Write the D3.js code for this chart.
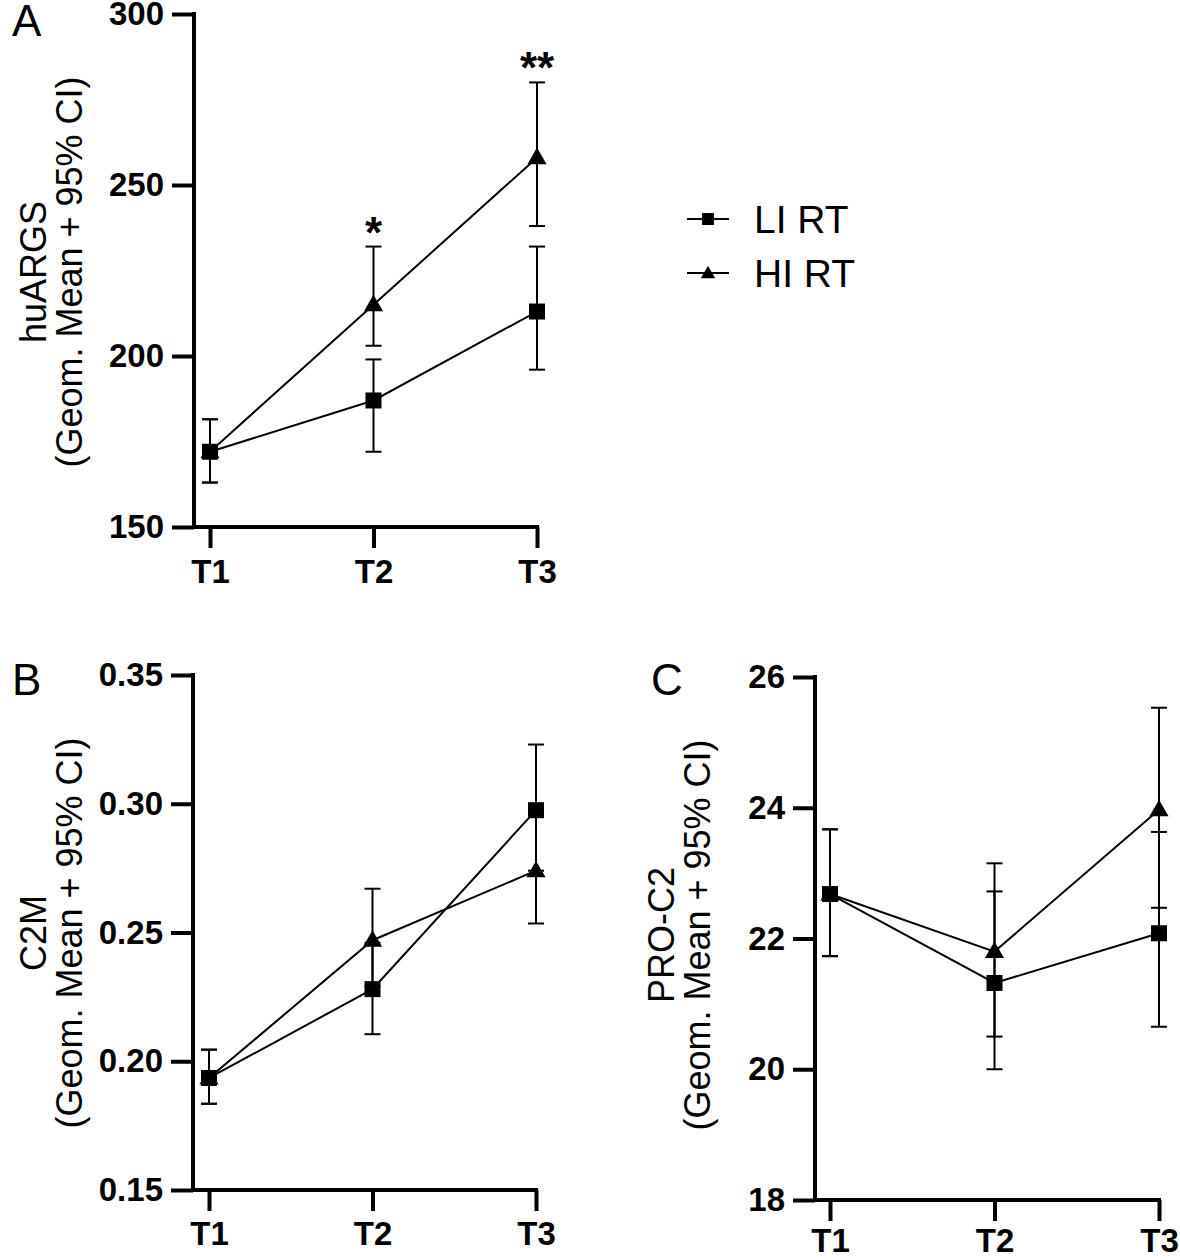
<!DOCTYPE html>
<html><head><meta charset="utf-8">
<script src="https://cdn.jsdelivr.net/npm/d3@7/dist/d3.min.js"></script>
<style>
html,body{margin:0;padding:0;background:#fff;}
svg{display:block;font-family:"Liberation Sans",Arial,sans-serif;}
</style></head>
<body>
<svg id="chart" width="1180" height="1260"></svg>
<script>
// ---- data ----
const timepoints = ["T1", "T2", "T3"];
const seriesNames = ["LI RT", "HI RT"];

// Panel A: huARGS
const huargsTicks = [150, 200, 250, 300];
const huargsLI = [172, 187, 213];
const huargsLILow = [163, 172, 196];
const huargsLIHigh = [181.5, 199, 232];
const huargsHI = [172, 215, 258];
const huargsHILow = [163, 203, 238];
const huargsHIHigh = [181.5, 232, 280];
const huargsStars = ["", "*", "**"];

// Panel B: C2M
const c2mTicks = [0.15, 0.20, 0.25, 0.30, 0.35];
const c2mLI = [0.1935, 0.228, 0.2975];
const c2mLILow = [0.1835, 0.2105, 0.274];
const c2mLIHigh = [0.2045, 0.246, 0.323];
const c2mHI = [0.1935, 0.247, 0.274];
const c2mHILow = [0.1835, 0.229, 0.2535];
const c2mHIHigh = [0.2045, 0.267, 0.297];

// Panel C: PRO-C2
const proc2Ticks = [18, 20, 22, 24, 26];
const proc2LI = [22.68, 21.32, 22.08];
const proc2LILow = [21.73, 20.0, 20.65];
const proc2LIHigh = [23.67, 22.72, 23.63];
const proc2HI = [22.68, 21.8, 23.97];
const proc2HILow = [21.73, 20.5, 22.47];
const proc2HIHigh = [23.67, 23.15, 25.53];

const svg = d3.select("#chart");
const tri = d3.symbol().type(d3.symbolTriangle);

function marker(g, type, x, y, size) {
  if (type === "square") {
    g.append("rect").attr("x", x - size / 2).attr("y", y - size / 2)
      .attr("width", size).attr("height", size).attr("fill", "#000");
  } else {
    g.append("path").attr("d", tri.size(size * size * 0.62)())
      .attr("transform", `translate(${x},${y + 1})`).attr("fill", "#000");
  }
}

function panel(cfg) {
  const g = svg.append("g");
  const y = d3.scaleLinear().domain(cfg.domain).range([cfg.bottom, cfg.top]);
  const x = d3.scalePoint().domain(timepoints).range([cfg.x1, cfg.x3]);

  // y axis
  const ya = g.append("g").attr("transform", `translate(${cfg.axisX},0)`)
    .call(d3.axisLeft(y).tickValues(cfg.ticks).tickSize(22).tickPadding(8)
      .tickSizeOuter(0).tickFormat(cfg.fmt));
  ya.select(".domain").remove();
  ya.selectAll(".tick line").attr("stroke", "#000").attr("stroke-width", 4);
  ya.selectAll(".tick text").attr("fill", "#000").attr("font-size", 33)
    .attr("font-weight", "bold").attr("font-family", "Liberation Sans, Arial, sans-serif");
  g.append("line").attr("x1", cfg.axisX).attr("x2", cfg.axisX)
    .attr("y1", y(cfg.domain[1]) - 2).attr("y2", y(cfg.domain[0]) + 2)
    .attr("stroke", "#000").attr("stroke-width", 4);

  // x axis
  const xa = g.append("g").attr("transform", `translate(0,${y(cfg.domain[0])})`)
    .call(d3.axisBottom(x).tickSize(21).tickPadding(cfg.xPad).tickSizeOuter(0));
  xa.select(".domain").remove();
  xa.selectAll(".tick line").attr("stroke", "#000").attr("stroke-width", 4);
  xa.selectAll(".tick text").attr("fill", "#000").attr("font-size", 33)
    .attr("font-weight", "bold").attr("font-family", "Liberation Sans, Arial, sans-serif");
  g.append("line").attr("x1", cfg.axisX - 2).attr("x2", x("T3") + 2)
    .attr("y1", y(cfg.domain[0])).attr("y2", y(cfg.domain[0]))
    .attr("stroke", "#000").attr("stroke-width", 4);

  // y label
  const lab = g.append("text").attr("transform", `translate(${cfg.labelX},${cfg.labelY}) rotate(-90)`)
    .attr("text-anchor", "middle").attr("font-size", 36).attr("fill", "#000");
  lab.append("tspan").attr("x", 0).attr("y", 0).text(cfg.label);
  lab.append("tspan").attr("x", 0).attr("y", 36).text("(Geom. Mean + 95% CI)");

  // panel letter
  g.append("text").attr("x", cfg.letterX).attr("y", cfg.letterY)
    .attr("font-size", 44).attr("fill", "#000").text(cfg.letter);

  const line = d3.line().x((d, i) => x(timepoints[i])).y(d => y(d));
  const sets = [
    { v: cfg.li, lo: cfg.liLo, hi: cfg.liHi, type: "square" },
    { v: cfg.hi, lo: cfg.hiLo, hi: cfg.hiHi, type: "triangle" }
  ];
  sets.forEach(s => {
    s.v.forEach((v, i) => {
      const cx = x(timepoints[i]);
      g.append("line").attr("x1", cx).attr("x2", cx).attr("y1", y(s.lo[i])).attr("y2", y(s.hi[i]))
        .attr("stroke", "#000").attr("stroke-width", 2);
      [s.lo[i], s.hi[i]].forEach(c => {
        g.append("line").attr("x1", cx - 8).attr("x2", cx + 8).attr("y1", y(c)).attr("y2", y(c))
          .attr("stroke", "#000").attr("stroke-width", 2);
      });
    });
  });
  sets.forEach(s => {
    g.append("path").datum(s.v).attr("d", line).attr("fill", "none")
      .attr("stroke", "#000").attr("stroke-width", 2);
  });
  sets.slice().reverse().forEach(s => {
    s.v.forEach((v, i) => marker(g, s.type, x(timepoints[i]), y(v), 16));
  });

  if (cfg.stars) {
    cfg.stars.forEach((st, i) => {
      if (!st) return;
      g.append("text").attr("x", x(timepoints[i])).attr("y", y(cfg.hiHi[i]) - cfg.starGap)
        .attr("text-anchor", "middle").attr("font-size", 44).attr("font-weight", "bold")
        .attr("fill", "#000").text(st);
    });
  }
  return { x, y };
}

panel({
  domain: [150, 300], ticks: huargsTicks, fmt: d3.format("d"),
  top: 14, bottom: 527, axisX: 194, x1: 210, x3: 537, xPad: 12,
  label: "huARGS", labelX: 46, labelY: 272, letter: "A", letterX: 12, letterY: 36,
  li: huargsLI, liLo: huargsLILow, liHi: huargsLIHigh,
  hi: huargsHI, hiLo: huargsHILow, hiHi: huargsHIHigh,
  stars: huargsStars, starGap: -1
});

panel({
  domain: [0.15, 0.35], ticks: c2mTicks, fmt: d3.format(".2f"),
  top: 675, bottom: 1190, axisX: 193, x1: 209, x3: 536, xPad: 11,
  label: "C2M", labelX: 46, labelY: 933, letter: "B", letterX: 12, letterY: 695,
  li: c2mLI, liLo: c2mLILow, liHi: c2mLIHigh,
  hi: c2mHI, hiLo: c2mHILow, hiHi: c2mHIHigh
});

panel({
  domain: [18, 26], ticks: proc2Ticks, fmt: d3.format("d"),
  top: 677, bottom: 1200, axisX: 815, x1: 830, x3: 1159, xPad: 8,
  label: "PRO-C2", labelX: 674, labelY: 935, letter: "C", letterX: 651, letterY: 695,
  li: proc2LI, liLo: proc2LILow, liHi: proc2LIHigh,
  hi: proc2HI, hiLo: proc2HILow, hiHi: proc2HIHigh
});

// legend
const legY = d3.scalePoint().domain(seriesNames).range([219, 273]);
const leg = svg.append("g");
seriesNames.forEach((n, i) => {
  const yy = legY(n);
  leg.append("line").attr("x1", 687).attr("x2", 729).attr("y1", yy).attr("y2", yy)
    .attr("stroke", "#000").attr("stroke-width", 2);
  marker(leg, i === 0 ? "square" : "triangle", 708, yy, 12);
  leg.append("text").attr("x", 754).attr("y", yy).attr("dy", "0.36em")
    .attr("font-size", 39).attr("fill", "#000").text(n);
});
</script>
</body></html>
